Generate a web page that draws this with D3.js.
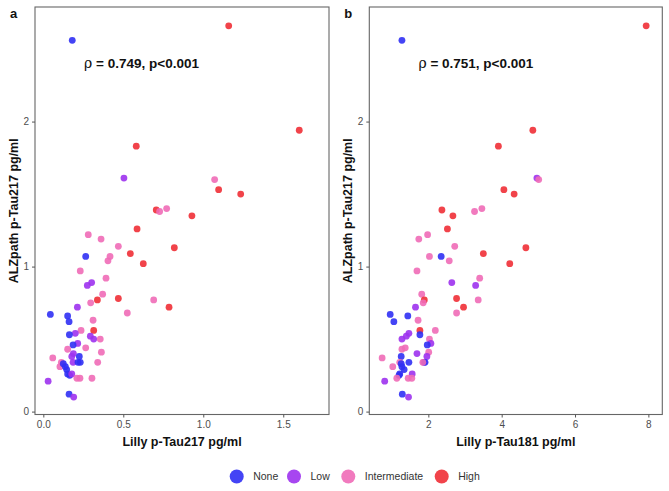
<!DOCTYPE html>
<html>
<head>
<meta charset="utf-8">
<script src="https://cdn.jsdelivr.net/npm/d3@7"></script>
<style>
  html, body { margin: 0; padding: 0; background: #fff; }
  svg { display: block; font-family: "Liberation Sans", Arial, sans-serif; }
</style>
</head>
<body>
<svg id="chart" width="669" height="491"></svg>
<script>
// ---- Data ----
const groups = ["None", "Low", "Intermediate", "High"];
const groupColors = ["#3030f4", "#9d32ee", "#f06cb7", "#ef2f36"];

// ALZpath p-Tau217 (pg/ml), shared y value per subject
const alzpath = [2.56, 2.66, 1.94, 1.83, 1.61, 1.60, 1.53, 1.50, 1.39, 1.38, 1.40, 1.35,
  1.26, 1.22, 1.19, 1.14, 1.13, 1.09, 1.07, 1.07, 1.04, 1.02, 0.97, 0.92,
  0.89, 0.87, 0.81, 0.78, 0.77, 0.77, 0.75, 0.72, 0.72, 0.68, 0.67, 0.66,
  0.62, 0.63, 0.56, 0.56, 0.54, 0.53, 0.52, 0.50, 0.50, 0.47, 0.46, 0.43,
  0.44, 0.41, 0.40, 0.37, 0.38, 0.38, 0.34, 0.34, 0.34, 0.34, 0.34, 0.31,
  0.33, 0.31, 0.29, 0.26, 0.25, 0.26, 0.23, 0.23, 0.23, 0.21, 0.12, 0.10];

// Lilly p-Tau217 (pg/ml) – panel a x values
const lilly217 = [0.181, 1.159, 1.600, 0.581, 0.504, 1.071, 1.096, 1.234, 0.706, 0.727, 0.771, 0.929,
  0.586, 0.281, 0.361, 0.469, 0.819, 0.544, 0.265, 0.417, 0.404, 0.625, 0.231, 0.392,
  0.302, 0.275, 0.371, 0.469, 0.690, 0.338, 0.296, 0.786, 0.213, 0.525, 0.044, 0.152,
  0.161, 0.311, 0.315, 0.236, 0.200, 0.163, 0.294, 0.315, 0.356, 0.215, 0.186, 0.152,
  0.265, 0.363, 0.188, 0.059, 0.178, 0.225, 0.113, 0.186, 0.217, 0.231, 0.340, 0.104,
  0.125, 0.138, 0.146, 0.152, 0.165, 0.178, 0.210, 0.229, 0.304, 0.030, 0.161, 0.190];

// Lilly p-Tau181 (pg/ml) – panel b x values
const lilly181 = [1.28, 7.94, 4.85, 3.91, 4.96, 5.01, 4.06, 4.34, 2.37, 3.26, 3.46, 2.67,
  2.52, 1.98, 1.74, 2.72, 4.66, 3.50, 2.35, 2.03, 2.57, 4.22, 1.69, 3.40,
  2.64, 3.29, 1.82, 2.77, 3.36, 1.89, 1.86, 2.96, 1.65, 2.77, 0.96, 1.44,
  1.06, 1.72, 1.77, 2.19, 1.47, 1.77, 1.40, 1.28, 2.03, 2.07, 1.97, 1.28,
  1.37, 2.01, 1.69, 0.74, 1.96, 1.26, 1.22, 1.88, 1.47, 1.91, 1.85, 1.03,
  1.26, 1.28, 1.34, 1.22, 1.20, 1.56, 1.14, 1.45, 1.55, 0.81, 1.29, 1.46];

// Amyloid group per subject (index into groups)
const groupIdx = [0, 3, 3, 3, 1, 2, 3, 3, 3, 2, 2, 3,
  3, 2, 2, 2, 3, 3, 0, 2, 2, 3, 2, 2,
  1, 1, 2, 3, 2, 3, 2, 3, 1, 2, 0, 0,
  0, 2, 3, 2, 1, 0, 1, 1, 2, 1, 0, 2,
  2, 2, 1, 2, 1, 0, 2, 1, 0, 0, 2, 2,
  0, 0, 0, 0, 0, 1, 2, 2, 2, 1, 0, 1];

const yTicks = [0, 1, 2];
const xTicksA = [0.0, 0.5, 1.0, 1.5];
const xTicksB = [2, 4, 6, 8];
const panelLabels = ["a", "b"];
const xTitles = ["Lilly p-Tau217 pg/ml", "Lilly p-Tau181 pg/ml"];
const yTitle = "ALZpath p-Tau217 pg/ml";
const rhoValues = ["0.749", "0.751"];
const pText = "p<0.001";

// ---- Drawing ----
const svg = d3.select("#chart");
const color = d3.scaleOrdinal().domain(groups).range(groupColors);

const panelTop = 7, panelBottom = 414.5;
const panels = [
  { x0: 35, x1: 329, xDomain: [-0.052, 1.786], xs: lilly217, ticks: xTicksA, fmt: d3.format(".1f"),
    ann: [0.255, 2.40] },
  { x0: 369.3, x1: 662.3, xDomain: [0.39, 8.38], xs: lilly181, ticks: xTicksB, fmt: d3.format("d"),
    ann: [1.73, 2.40] }
];

const yScale = d3.scaleLinear().domain([-0.02, 2.79]).range([panelBottom, panelTop]);

panels.forEach((p, pi) => {
  const x = d3.scaleLinear().domain(p.xDomain).range([p.x0, p.x1]);
  const g = svg.append("g");

  // points
  const pts = alzpath.map((yv, i) => ({ x: p.xs[i], y: yv, g: groups[groupIdx[i]] }));
  g.append("g").selectAll("circle").data(pts).join("circle")
    .attr("cx", d => x(d.x)).attr("cy", d => yScale(d.y)).attr("r", 3.4)
    .attr("fill", d => color(d.g)).attr("fill-opacity", 0.9);

  // border
  g.append("rect").attr("x", p.x0).attr("y", panelTop)
    .attr("width", p.x1 - p.x0).attr("height", panelBottom - panelTop)
    .attr("fill", "none").attr("stroke", "#666").attr("stroke-width", 1.1);

  // axes
  const xa = g.append("g").attr("transform", `translate(0,${panelBottom})`)
    .call(d3.axisBottom(x).tickValues(p.ticks).tickFormat(p.fmt).tickSize(3).tickPadding(3).tickSizeOuter(0));
  const ya = g.append("g").attr("transform", `translate(${p.x0},0)`)
    .call(d3.axisLeft(yScale).tickValues(yTicks).tickFormat(d3.format("d")).tickSize(3).tickPadding(3).tickSizeOuter(0));
  [xa, ya].forEach(a => {
    a.select(".domain").remove();
    a.selectAll(".tick line").attr("stroke", "#555");
    a.selectAll(".tick text").attr("fill", "#4d4d4d").style("font-size", "10px")
      .style("font-family", "'Liberation Sans', Arial, sans-serif");
  });

  // titles
  g.append("text").attr("x", (p.x0 + p.x1) / 2).attr("y", 446)
    .attr("text-anchor", "middle").style("font-size", "12.5px").style("font-weight", "bold")
    .attr("fill", "#111").text(xTitles[pi]);
  g.append("text")
    .attr("transform", `translate(${p.x0 - 17},${(panelTop + panelBottom) / 2}) rotate(-90)`)
    .attr("text-anchor", "middle").style("font-size", "12.5px").style("font-weight", "bold")
    .attr("fill", "#111").text(yTitle);

  // panel label
  g.append("text").attr("x", p.x0 - 25).attr("y", 18)
    .style("font-size", "13px").style("font-weight", "bold").attr("fill", "#111")
    .text(panelLabels[pi]);

  // annotation
  const t = g.append("text").attr("x", x(p.ann[0])).attr("y", yScale(p.ann[1]) + 4.5)
    .style("font-size", "13.5px").attr("fill", "#111");
  t.append("tspan").style("font-family", "'DejaVu Serif', 'Liberation Serif', serif").style("font-size", "14px").text("ρ");
  t.append("tspan").style("font-weight", "bold").text(` = ${rhoValues[pi]}, ${pText}`);
});

// legend
const legendX = [236.7, 294, 348.3, 441.7];
const lg = svg.append("g");
groups.forEach((name, i) => {
  lg.append("circle").attr("cx", legendX[i]).attr("cy", 476.5).attr("r", 7)
    .attr("fill", color(name)).attr("fill-opacity", 0.9);
  lg.append("text").attr("x", legendX[i] + 16.5).attr("y", 480.3)
    .style("font-size", "10.5px").attr("fill", "#333").text(name);
});
</script>
</body>
</html>
